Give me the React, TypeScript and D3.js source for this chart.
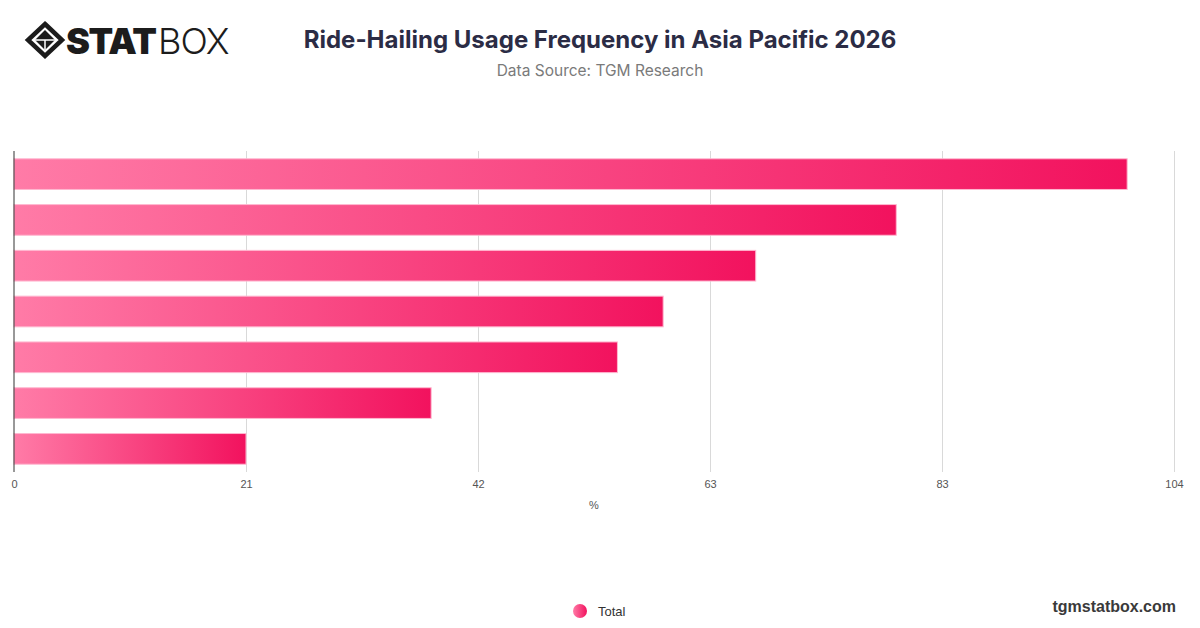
import React, { useEffect, useRef } from 'react';
import * as d3 from 'd3';

// Chart data
const categories = ['r1', 'r2', 'r3', 'r4', 'r5', 'r6', 'r7'];
const totalValues = [99.8, 79.1, 66.5, 58.2, 54.1, 37.4, 20.8];
const xMax = 104;
const tickLabels = ['0', '21', '42', '63', '83', '104'];
const seriesName = 'Total';
const axisTitle = '%';
const chartTitle = 'Ride-Hailing Usage Frequency in Asia Pacific 2026';
const chartSubtitle = 'Data Source: TGM Research';
const siteLabel = 'tgmstatbox.com';

const WIDTH = 1200;
const HEIGHT = 628;

const App: React.FC = () => {
  const svgRef = useRef<SVGSVGElement>(null);

  useEffect(() => {
    if (!svgRef.current) return;
    const svg = d3.select(svgRef.current);
    svg.selectAll('*').remove();

    const margin = { top: 151, right: 26, bottom: 156, left: 14 };
    const innerWidth = WIDTH - margin.left - margin.right;
    const innerHeight = HEIGHT - margin.top - margin.bottom;

    const defs = svg.append('defs');
    const grad = defs
      .append('linearGradient')
      .attr('id', 'barGrad')
      .attr('x1', '0%')
      .attr('x2', '100%')
      .attr('y1', '0%')
      .attr('y2', '0%');
    grad.append('stop').attr('offset', '0%').attr('stop-color', '#ff7ba7');
    grad.append('stop').attr('offset', '100%').attr('stop-color', '#f2125e');

    // Header / logo
    const logo = svg.append('g').attr('transform', 'translate(27,22)');
    logo
      .append('path')
      .attr('d', 'M18,2 L35,18 L18,34 L1,18 Z')
      .attr('fill', 'none')
      .attr('stroke', '#1c1c1c')
      .attr('stroke-width', 4.5)
      .attr('stroke-linejoin', 'miter');
    logo
      .append('path')
      .attr('d', 'M18,8 L28,18 L18,28 L8,18 Z')
      .attr('fill', '#1c1c1c');
    logo
      .append('path')
      .attr('d', 'M8,18 L18,18 L18,28 M18,18 L28,18')
      .attr('fill', 'none')
      .attr('stroke', '#fff')
      .attr('stroke-width', 1.5);
    logo
      .append('text')
      .attr('x', 39)
      .attr('y', 32)
      .attr('font-family', 'Inter, "DejaVu Sans", sans-serif')
      .attr('font-size', 36)
      .attr('font-weight', 900)
      .attr('letter-spacing', -1.5)
      .attr('fill', '#1c1c1c')
      .text('STAT');
    logo
      .append('text')
      .attr('x', 131)
      .attr('y', 32)
      .attr('font-family', 'Inter, "DejaVu Sans", sans-serif')
      .attr('font-size', 36)
      .attr('font-weight', 300)
      .attr('letter-spacing', -1)
      .attr('fill', '#1c1c1c')
      .text('BOX');

    svg
      .append('text')
      .attr('x', 600)
      .attr('y', 48)
      .attr('text-anchor', 'middle')
      .attr('font-family', 'Inter, Roboto, sans-serif')
      .attr('font-weight', 700)
      .attr('font-size', 24)
      .attr('fill', '#2b2c45')
      .text(chartTitle);

    svg
      .append('text')
      .attr('x', 600)
      .attr('y', 76)
      .attr('text-anchor', 'middle')
      .attr('font-family', 'Inter, Roboto, sans-serif')
      .attr('font-size', 15.5)
      .attr('fill', '#7a7a7a')
      .text(chartSubtitle);

    const g = svg
      .append('g')
      .attr('transform', `translate(${margin.left},${margin.top})`);

    // Scales
    const xScale = d3.scaleLinear().domain([0, xMax]).range([0, innerWidth]);
    const yScale = d3
      .scaleBand<string>()
      .domain(categories)
      .range([0, innerHeight])
      .paddingInner(0.33)
      .paddingOuter(0.17);

    const ticks = tickLabels.map((_, i) => (xMax / (tickLabels.length - 1)) * i);

    // Grid
    g.append('g')
      .call(
        d3
          .axisBottom(xScale)
          .tickValues(ticks.slice(1))
          .tickSize(innerHeight)
          .tickFormat(() => '')
      )
      .call(sel => sel.select('.domain').remove())
      .selectAll('line')
      .attr('stroke', '#d9d9d9')
      .attr('stroke-width', 1);

    // Tick labels
    g.append('g')
      .attr('transform', `translate(0,${innerHeight})`)
      .call(
        d3
          .axisBottom(xScale)
          .tickValues(ticks)
          .tickSize(0)
          .tickPadding(8)
          .tickFormat((d, i) => tickLabels[i])
      )
      .call(sel => sel.select('.domain').remove())
      .selectAll('text')
      .attr('font-family', 'Arial, "Liberation Sans", sans-serif')
      .attr('font-size', 11)
      .attr('fill', '#555');

    g.append('text')
      .attr('x', innerWidth / 2)
      .attr('y', innerHeight + 37)
      .attr('text-anchor', 'middle')
      .attr('font-family', 'Arial, "Liberation Sans", sans-serif')
      .attr('font-size', 11)
      .attr('fill', '#555')
      .text(axisTitle);

    // Bars
    g.selectAll('.bar')
      .data(totalValues)
      .join('rect')
      .attr('class', 'bar')
      .attr('x', 0)
      .attr('y', (d, i) => yScale(categories[i]) as number)
      .attr('width', d => xScale(d))
      .attr('height', yScale.bandwidth())
      .attr('fill', 'url(#barGrad)')
      .attr('stroke', '#ffb8d0')
      .attr('stroke-width', 1);

    // Y axis line
    g.append('line')
      .attr('x1', 0)
      .attr('x2', 0)
      .attr('y1', 0)
      .attr('y2', innerHeight)
      .attr('stroke', '#333')
      .attr('stroke-width', 1);

    // Legend
    svg
      .append('circle')
      .attr('cx', 580)
      .attr('cy', 611)
      .attr('r', 7)
      .attr('fill', 'url(#barGrad)');
    svg
      .append('text')
      .attr('x', 598)
      .attr('y', 616)
      .attr('font-family', 'Arial, "Liberation Sans", sans-serif')
      .attr('font-size', 13)
      .attr('fill', '#333')
      .text(seriesName);

    svg
      .append('text')
      .attr('x', 1176)
      .attr('y', 612)
      .attr('text-anchor', 'end')
      .attr('font-family', 'Arial, "Liberation Sans", sans-serif')
      .attr('font-weight', 700)
      .attr('font-size', 16)
      .attr('fill', '#3a3a3a')
      .text(siteLabel);
  }, []);

  return (
    <svg
      ref={svgRef}
      width={WIDTH}
      height={HEIGHT}
      style={{ position: 'fixed', left: 0, top: 0, background: '#fff' }}
    />
  );
};

export default App;
